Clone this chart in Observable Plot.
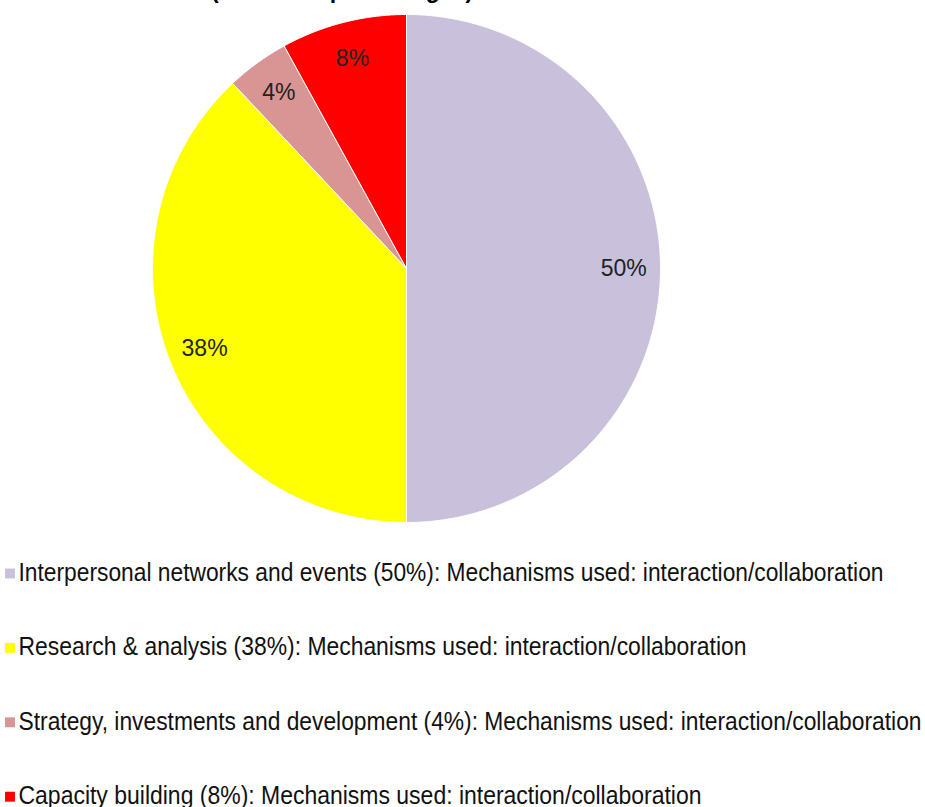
<!DOCTYPE html>
<html>
<head>
<meta charset="utf-8">
<script src="https://cdn.jsdelivr.net/npm/d3@7"></script>
<script src="https://cdn.jsdelivr.net/npm/@observablehq/plot@0.6"></script>
<style>
  html, body { margin: 0; padding: 0; background: #fff; }
  #chart { width: 925px; height: 807px; overflow: hidden; }
</style>
</head>
<body>
<div id="chart"></div>
<script>
// ---- data ----
const titleText = "Mechanisms used (shown as percentages)";
const categories = [
  "Interpersonal networks and events",
  "Research & analysis",
  "Strategy, investments and development",
  "Capacity building"
];
const values = [50, 38, 4, 8];
const colors = ["#C9C1DC", "#FFFF00", "#D99594", "#FF0000"];
const mechanism = "Mechanisms used: interaction/collaboration";

// ---- build pie geometry from values ----
const arcs = d3.pie().sort(null).value(d => d)(values);
const slicePts = [];
arcs.forEach((a, i) => {
  const n = Math.max(8, Math.ceil((a.endAngle - a.startAngle) / 0.01));
  slicePts.push({k: i, x: 0, y: 0});
  for (let j = 0; j <= n; j++) {
    const t = a.startAngle + (a.endAngle - a.startAngle) * j / n;
    slicePts.push({k: i, x: Math.sin(t), y: Math.cos(t)});
  }
  slicePts.push({k: i, x: 0, y: 0});
});
const labelR = 0.855;
const labels = arcs.map((a, i) => {
  const m = (a.startAngle + a.endAngle) / 2;
  return {x: labelR * Math.sin(m), y: labelR * Math.cos(m), t: values[i] + "%"};
});

const legendItems = categories.map((c, i) => ({
  i, text: `${c} (${values[i]}%): ${mechanism}`, color: colors[i]
}));
const legendTop = 572, legendStep = 74.4;
const legendWidths = [865, 728, 903, 683];

const legendMarks = legendItems.flatMap(d => [
  Plot.dot([d], {frameAnchor: "top-left", dx: 9.5, dy: legendTop + 1 + d.i * legendStep,
    symbol: "square", r: 5.6, fill: d.color, stroke: "none"}),
  Plot.text([d], {frameAnchor: "top-left", dx: 18, dy: legendTop + d.i * legendStep,
    lineAnchor: "middle", text: "text", textAnchor: "start", fontSize: 26, fill: "#111",
    fontFamily: "Liberation Sans, Arial, sans-serif"})
]);

const chart = Plot.plot({
  width: 925,
  height: 807,
  margin: 0,
  style: {background: "#fff", fontFamily: "Liberation Sans, Arial, sans-serif"},
  x: {domain: [-1, 1], range: [152, 660], axis: null},
  y: {domain: [-1, 1], range: [522, 14], axis: null},
  marks: [
    Plot.line(slicePts, {x: "x", y: "y", z: "k", fill: d => colors[d.k],
      stroke: "#fff", strokeWidth: 1, curve: "linear"}),
    Plot.text(labels, {x: "x", y: "y", text: "t", fontSize: 23, fill: "#222"}),
    Plot.text([titleText], {frameAnchor: "top-left", dx: 6, dy: -10, lineAnchor: "middle",
      text: d => d, textAnchor: "start", fontSize: 23, fontWeight: "bold", fill: "#000"}),
    ...legendMarks
  ]
});

document.getElementById("chart").appendChild(chart);

// condense legend text to match reference widths
const byText = new Map(legendItems.map(d => [d.text, legendWidths[d.i]]));
chart.querySelectorAll("text").forEach(el => {
  const w = byText.get(el.textContent);
  if (w) {
    el.setAttribute("textLength", w);
    el.setAttribute("lengthAdjust", "spacingAndGlyphs");
  }
});
</script>
</body>
</html>
